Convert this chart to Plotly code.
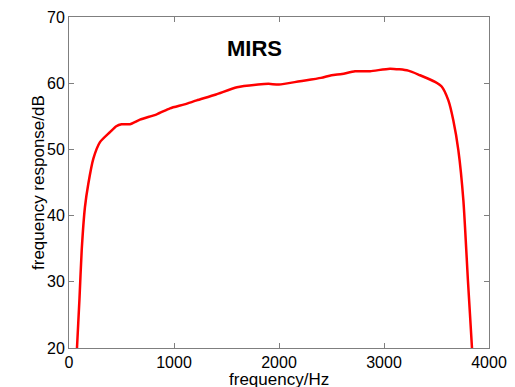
import plotly.graph_objects as go

freq_hz = [60, 76, 100, 121, 152, 184, 232, 295, 390, 450, 500, 580, 676, 835, 962,
           1100, 1216, 1400, 1600, 1800, 1900, 2000, 2200, 2400, 2500, 2600, 2724,
           2867, 3057, 3231, 3343, 3486, 3549, 3613, 3660, 3708, 3756, 3800, 3838, 3850]
response_db = [15, 20, 27.5, 34.8, 41.3, 44.8, 48.6, 51.1, 52.6, 53.5, 53.8, 53.8, 54.5,
               55.3, 56.2, 56.8, 57.4, 58.3, 59.4, 59.8, 59.9, 59.8, 60.3, 60.8, 61.2,
               61.4, 61.8, 61.8, 62.2, 61.9, 61.2, 60.2, 59.5, 57.4, 54.4, 49.9, 42.3,
               30, 20, 16]

x_ticks = [0, 1000, 2000, 3000, 4000]
y_ticks = [20, 30, 40, 50, 60, 70]

font = "Liberation Sans, Arial, sans-serif"
axis_color = "#7f7f7f"

fig = go.Figure()
fig.add_trace(go.Scatter(x=freq_hz, y=response_db, mode="lines",
                         line=dict(color="#ff0000", width=2.5, shape="spline", smoothing=0.6),
                         showlegend=False, hoverinfo="skip"))

axis_common = dict(showgrid=False, zeroline=False, showline=True, linecolor=axis_color,
                   linewidth=1, mirror="ticks", ticks="inside", ticklen=5,
                   tickcolor=axis_color, tickwidth=1, automargin=False,
                   tickfont=dict(family=font, size=16, color="black"))

fig.update_xaxes(range=[0, 4000], tickvals=x_ticks, ticktext=[str(v) for v in x_ticks],
                 **axis_common)
fig.update_yaxes(range=[20, 70], tickvals=y_ticks, ticktext=[str(v) for v in y_ticks],
                 **axis_common)

fig.add_annotation(text="<b>MIRS</b>", x=1771, y=65.2, xref="x", yref="y",
                   xanchor="center", yanchor="middle", showarrow=False,
                   font=dict(family=font, size=22, color="black"))
fig.add_annotation(text="frequency/Hz", x=0.5, y=-0.095, xref="paper", yref="paper",
                   xanchor="center", yanchor="middle", showarrow=False,
                   font=dict(family=font, size=17, color="black"))
fig.add_annotation(text="frequency response/dB", x=-0.0726, y=0.5, xref="paper", yref="paper",
                   xanchor="center", yanchor="middle", textangle=-90, showarrow=False,
                   font=dict(family=font, size=17, color="black"))

# page body has an 8px default margin, so shift the figure's own margins to compensate
fig.update_layout(width=515, height=387, margin=dict(l=61, r=34, t=9, b=46.5),
                  paper_bgcolor="white", plot_bgcolor="white")

fig.write_html("out.html")
